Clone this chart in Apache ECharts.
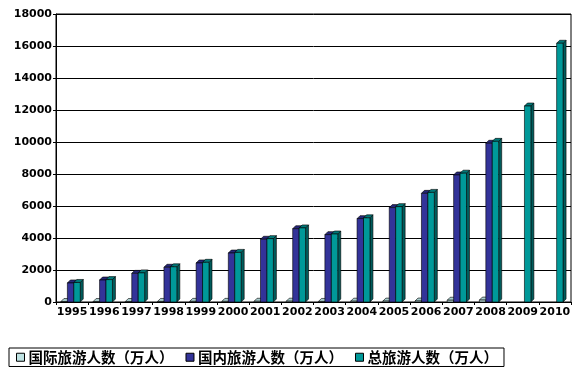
<!DOCTYPE html>
<html><head><meta charset="utf-8">
<script src="https://cdn.jsdelivr.net/npm/echarts@6/dist/echarts.min.js"></script>
<style>html,body{margin:0;padding:0;background:#fff}#c{width:588px;height:376px}</style>
</head><body><div id="c"></div>
<script>
var years = ['1995','1996','1997','1998','1999','2000','2001','2002','2003','2004','2005','2006','2007','2008','2009','2010'];
var intlVisitors = [30, 30, 30, 35, 40, 40, 45, 50, 35, 50, 55, 60, 110, 120, null, null];
var domesticVisitors = [1190, 1375, 1790, 2170, 2440, 3060, 3920, 4580, 4210, 5210, 5900, 6790, 7940, 9920, null, null];
var totalVisitors = [1220, 1400, 1820, 2200, 2480, 3100, 3960, 4630, 4250, 5260, 5960, 6850, 8050, 10040, 12250, 16170];
var seriesNames = ['国际旅游人数（万人）', '国内旅游人数（万人）', '总旅游人数（万人）'];
var yTicks = [0, 2000, 4000, 6000, 8000, 10000, 12000, 14000, 16000, 18000];

var faces = [
  {front:'#BFE3E3', side:'#8FB0B0', top:'#A8CCCC'},
  {front:'#333399', side:'#1C1C5E', top:'#262678'},
  {front:'#009999', side:'#005C5C', top:'#007878'}
];

function makeRender(k) {
  return function (params, api) {
    var v = api.value(1);
    if (v == null || isNaN(v)) return;
    var idx = api.value(0);
    var top = api.coord([idx, v]);
    var base = api.coord([idx, 0]);
    var band = api.size([1, 0])[0];
    var w = band * 0.2;
    var x0 = top[0] - 1.5 * w + k * w - 1.5;
    var x1 = x0 + w;
    var yT = top[1], yB = base[1];
    var d = 3;
    var f = faces[k];
    var st = {stroke:'#000', lineWidth:0.6};
    return {type:'group', children:[
      {type:'polygon', shape:{points:[[x1,yT],[x1+d,yT-d],[x1+d,yB-d],[x1,yB]]}, style:Object.assign({fill:f.side}, st)},
      {type:'polygon', shape:{points:[[x0,yT],[x0+d,yT-d],[x1+d,yT-d],[x1,yT]]}, style:Object.assign({fill:f.top}, st)},
      {type:'rect', shape:{x:x0, y:yT, width:w, height:yB-yT}, style:Object.assign({fill:f.front}, st)}
    ]};
  };
}
function toData(arr) { return arr.map(function (v, i) { return [i, v]; }); }

var allData = [intlVisitors, domesticVisitors, totalVisitors];
var series = allData.map(function (arr, k) {
  return {
    type:'custom', name:seriesNames[k], renderItem:makeRender(k),
    data:toData(arr), encode:{x:0, y:1},
    itemStyle:{color:faces[k].front, borderColor:'#000', borderWidth:1}
  };
});

var chart = echarts.init(document.getElementById('c'), null, {renderer:'canvas'});
chart.setOption({
  animation:false,
  backgroundColor:'#fff',
  grid:{left:56, right:17, top:14, bottom:74, show:true, borderColor:'#000', borderWidth:1, backgroundColor:'transparent'},
  xAxis:{
    type:'category', data:years, boundaryGap:true,
    axisLine:{lineStyle:{color:'#000', width:1}},
    axisTick:{show:true, length:3, alignWithLabel:false, lineStyle:{color:'#000'}},
    axisLabel:{color:'#000', fontFamily:'DejaVu Sans', fontWeight:'bold', fontSize:11, margin:5, interval:0}
  },
  yAxis:{
    type:'value', min:yTicks[0], max:yTicks[yTicks.length-1], interval:2000,
    axisLine:{show:true, lineStyle:{color:'#000', width:1}},
    axisTick:{show:true, length:3, lineStyle:{color:'#000'}},
    splitLine:{show:true, lineStyle:{color:'#000', width:1}},
    axisLabel:{color:'#000', fontFamily:'DejaVu Sans', fontWeight:'bold', fontSize:11, margin:4,
      formatter:function(v){return String(v);}}
  },
  legend:{
    data:seriesNames.map(function(n){return {name:n, icon:'rect'};}),
    left:9, top:348, width:496,
    orient:'horizontal', itemWidth:8, itemHeight:8, itemGap:12,
    padding:[2, 6, 2, 7],
    borderColor:'#000', borderWidth:1,
    itemStyle:{borderColor:'#000', borderWidth:1},
    textStyle:{color:'#000', fontFamily:'Noto Sans CJK SC', fontWeight:'bold', fontSize:14.5, padding:[0,0,0,-1]}
  },
  series:series
});
</script></body></html>
